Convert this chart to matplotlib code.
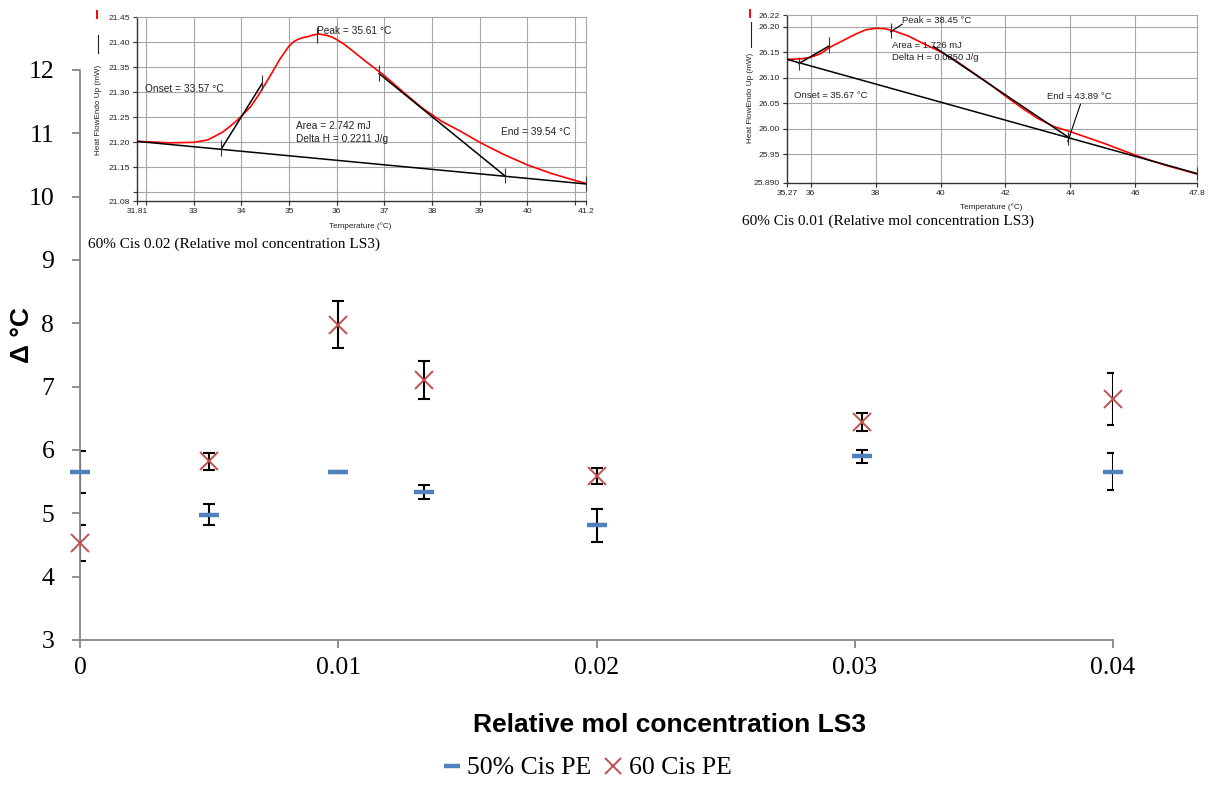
import matplotlib
matplotlib.use("Agg")
import matplotlib.pyplot as plt
from matplotlib.lines import Line2D

W, H = 1208, 787

# ---- main series: melting-transition shift vs. LS3 concentration ----
conc = [0, 0.005, 0.01, 0.01333, 0.02, 0.0303, 0.04]
dT_50 = [5.65, 4.98, 5.65, 5.33, 4.81, 5.90, 5.66]
err_50 = [0.33, 0.17, 0.02, 0.11, 0.26, 0.10, 0.29]
dT_60 = [4.53, 5.82, 7.98, 7.11, 5.59, 6.44, 6.81]
err_60 = [0.29, 0.14, 0.37, 0.30, 0.12, 0.14, 0.41]

x_ticks = [0, 0.01, 0.02, 0.03, 0.04]
x_tick_labels = ["0", "0.01", "0.02", "0.03", "0.04"]
y_ticks = [3, 4, 5, 6, 7, 8, 9, 10, 11, 12]

# ---- DSC thermogram: 60% Cis, 0.02 LS3 ----
dsc02_T = [31.81, 32.5, 33.0, 33.3, 33.6, 33.75, 33.9, 34.05, 34.2, 34.35,
           34.5, 34.65, 34.8, 35.0, 35.1, 35.2, 35.3, 35.4, 35.5, 35.6, 35.7,
           35.8, 35.9, 36.0, 36.15, 36.3, 36.6, 37.0, 37.4, 37.8, 38.2, 38.6,
           39.0, 39.5, 40.0, 40.5, 41.0, 41.23]
dsc02_hf = [21.202, 21.199, 21.200, 21.205, 21.220, 21.231, 21.243, 21.257,
            21.272, 21.293, 21.316, 21.340, 21.365, 21.392, 21.401, 21.406,
            21.409, 21.411, 21.414, 21.416, 21.415, 21.413, 21.410, 21.405,
            21.396, 21.385, 21.362, 21.333, 21.300, 21.268, 21.242, 21.222,
            21.200, 21.176, 21.155, 21.138, 21.124, 21.118]
dsc02_base_T = [31.81, 41.23]
dsc02_base_hf = [21.202, 21.117]
dsc02_onset_T = [33.58, 34.44]
dsc02_onset_hf = [21.187, 21.318]
dsc02_end_T = [36.89, 39.53]
dsc02_end_hf = [21.337, 21.133]
dsc02_mark_T = [33.58, 34.44, 35.59, 36.89, 39.53, 41.23]
dsc02_mark_lo = [21.172, 21.305, 21.399, 21.322, 21.119, 21.102]
dsc02_mark_hi = [21.205, 21.335, 21.431, 21.355, 21.149, 21.132]

# ---- DSC thermogram: 60% Cis, 0.01 LS3 ----
dsc01_T = [35.27, 35.7, 36.0, 36.3, 36.6, 37.0, 37.4, 37.7, 38.0, 38.3, 38.6,
           39.0, 39.5, 40.0, 40.5, 41.0, 41.5, 42.0, 42.5, 43.0, 43.5, 44.0,
           44.5, 45.0, 45.5, 46.0, 46.5, 47.0, 47.9]
dsc01_hf = [26.136, 26.137, 26.140, 26.147, 26.160, 26.173, 26.186, 26.194,
            26.197, 26.196, 26.191, 26.182, 26.166, 26.151, 26.132, 26.110,
            26.088, 26.064, 26.041, 26.020, 26.004, 25.994, 25.983, 25.972,
            25.960, 25.948, 25.937, 25.927, 25.911]
dsc01_base_T = [35.27, 47.9]
dsc01_base_hf = [26.136, 25.912]
dsc01_onset_T = [35.64, 36.56]
dsc01_onset_hf = [26.128, 26.162]
dsc01_end_T = [39.79, 43.92]
dsc01_end_hf = [26.161, 25.984]
dsc01_mark_T = [35.64, 36.56, 38.46, 43.92, 47.9]
dsc01_mark_lo = [26.115, 26.149, 26.177, 25.968, 25.899]
dsc01_mark_hi = [26.141, 26.179, 26.207, 25.994, 25.925]

BLUE = "#4F81BD"
RED = "#C0504D"
AXIS_GREY = "#868686"
SERIF = ["Liberation Serif", "DejaVu Serif"]
SANS = ["Liberation Sans", "DejaVu Sans"]


def fx(px):
    return px / W


def fy(py):
    return 1 - py / H


fig = plt.figure(figsize=(W / 100, H / 100), dpi=100)

# ================= main chart =================
ax = fig.add_axes([fx(80), fy(640), (1113 - 80) / W, (640 - 70) / H])
ax.set_xlim(0, 0.04)
ax.set_ylim(3, 12)
for s in ("top", "right"):
    ax.spines[s].set_visible(False)
for s in ("left", "bottom"):
    ax.spines[s].set_color(AXIS_GREY)
    ax.spines[s].set_linewidth(1.3)
ax.set_xticks(x_ticks)
ax.set_xticklabels(x_tick_labels, family=SERIF, fontsize=18.5)
ax.set_yticks(y_ticks)
ax.set_yticklabels([str(v) for v in y_ticks], family=SERIF, fontsize=18.5)
ax.tick_params(axis="y", length=5.5, width=1.3, color=AXIS_GREY, pad=13)
ax.tick_params(axis="x", length=6, width=1.3, color=AXIS_GREY, pad=6)

ax.errorbar(conc, dT_50, yerr=err_50, fmt="none", ecolor="black",
            elinewidth=1.5, capsize=4.3, capthick=1.5, zorder=2)
ax.errorbar(conc, dT_60, yerr=err_60, fmt="none", ecolor="black",
            elinewidth=1.5, capsize=4.3, capthick=1.5, zorder=2)
ax.plot(conc, dT_50, ls="none", marker="_", ms=14.5, mew=3.2, color=BLUE,
        zorder=3, clip_on=False)
ax.plot(conc, dT_60, ls="none", marker="x", ms=13.5, mew=1.4, color=RED,
        zorder=3, clip_on=False)

handles = [
    Line2D([], [], ls="none", marker="_", ms=11.5, mew=3.2, color=BLUE),
    Line2D([], [], ls="none", marker="x", ms=12, mew=1.4, color=RED),
]
ax.legend(handles, ["50% Cis PE", "60 Cis PE"], ncol=2, loc="center",
          bbox_to_anchor=(fx(587), fy(768)), bbox_transform=fig.transFigure,
          frameon=False, prop={"family": SERIF, "size": 18.5},
          handlelength=0.7, handletextpad=0.25, columnspacing=0.5,
          borderpad=0, borderaxespad=0)

fig.text(fx(670), fy(725), "Relative mol concentration LS3", family=SANS,
         fontweight="bold", fontsize=19, ha="center", va="center")
fig.text(fx(22), fy(335), "Δ °C", family=SANS, fontweight="bold",
         fontsize=19, rotation=90, ha="center", va="center")


# ================= DSC thermogram panels =================
def dsc_panel(rect, xlim, ylim, xt, xtl, xgrid, yt, ytl, ygrid):
    a = fig.add_axes(rect)
    a.xaxis.remove_overlapping_locs = False
    a.yaxis.remove_overlapping_locs = False
    a.set_xlim(*xlim)
    a.set_ylim(*ylim)
    a.set_xticks(xt)
    a.set_xticklabels(xtl, family=SANS, fontsize=6.1, color="#222222")
    a.set_yticks(yt)
    a.set_yticklabels(ytl, family=SANS, fontsize=6.1, color="#222222")
    a.set_xticks(xgrid, minor=True)
    a.set_yticks(ygrid, minor=True)
    a.grid(which="minor", color="#A6A6A6", lw=0.8)
    a.tick_params(which="both", length=3, width=0.8, pad=2, color="#333333")
    for s in ("left", "bottom"):
        a.spines[s].set_color("#333333")
        a.spines[s].set_linewidth(1.0)
    for s in ("top", "right"):
        a.spines[s].set_color("#A6A6A6")
        a.spines[s].set_linewidth(0.8)
    return a


ax1 = dsc_panel([fx(137), fy(201), 449 / W, 184 / H], (31.81, 41.23),
                (21.083, 21.45),
                [31.81, 33, 34, 35, 36, 37, 38, 39, 40, 41.23],
                ["31.81", "33", "34", "35", "36", "37", "38", "39", "40", "41.2"],
                [32, 33, 34, 35, 36, 37, 38, 39, 40, 41],
                [21.083, 21.15, 21.20, 21.25, 21.30, 21.35, 21.40, 21.45],
                ["21.08", "21.15", "21.20", "21.25", "21.30", "21.35", "21.40", "21.45"],
                [21.10, 21.15, 21.20, 21.25, 21.30, 21.35, 21.40])
ax1.plot(dsc02_T, dsc02_hf, color="#FF0000", lw=1.2, zorder=3)
ax1.plot(dsc02_base_T, dsc02_base_hf, color="black", lw=1.1, zorder=4)
ax1.plot(dsc02_onset_T, dsc02_onset_hf, color="black", lw=1.1, zorder=4)
ax1.plot(dsc02_end_T, dsc02_end_hf, color="black", lw=1.1, zorder=4)
ax1.vlines(dsc02_mark_T, dsc02_mark_lo, dsc02_mark_hi, color="#333333",
           lw=0.8, zorder=4, clip_on=False)
ann = dict(family=SANS, fontsize=7.3, color="#222222", va="center")
ax1.text(35.59, 21.423, "Peak = 35.61 °C", **ann)
ax1.text(31.97, 21.306, "Onset = 33.57 °C", **ann)
ax1.text(35.14, 21.233, "Area = 2.742 mJ", **ann)
ax1.text(35.14, 21.207, "Delta H = 0.2211 J/g", **ann)
ax1.text(39.45, 21.22, "End = 39.54 °C", **ann)

ax2 = dsc_panel([fx(787), fy(182.7), 410 / W, 167.7 / H], (35.27, 47.9),
                (25.894, 26.223),
                [35.27, 36, 38, 40, 42, 44, 46, 47.9],
                ["35.27", "36", "38", "40", "42", "44", "46", "47.8"],
                [36, 38, 40, 42, 44, 46],
                [25.894, 25.95, 26.00, 26.05, 26.10, 26.15, 26.20, 26.223],
                ["25.890", "25.95", "26.00", "26.05", "26.10", "26.15", "26.20", "26.22"],
                [25.95, 26.00, 26.05, 26.10, 26.15, 26.20])
ax2.plot(dsc01_T, dsc01_hf, color="#FF0000", lw=1.2, zorder=3)
ax2.plot(dsc01_base_T, dsc01_base_hf, color="black", lw=1.1, zorder=4)
ax2.plot(dsc01_onset_T, dsc01_onset_hf, color="black", lw=1.1, zorder=4)
ax2.plot(dsc01_end_T, dsc01_end_hf, color="black", lw=1.1, zorder=4)
ax2.vlines(dsc01_mark_T, dsc01_mark_lo, dsc01_mark_hi, color="#333333",
           lw=0.8, zorder=4, clip_on=False)
ax2.plot([38.46, 38.82], [26.190, 26.205], color="black", lw=0.8, zorder=4)
ax2.plot([43.92, 44.31], [25.975, 26.048], color="black", lw=0.8, zorder=4)
ann2 = dict(family=SANS, fontsize=6.8, color="#222222", va="center")
ax2.text(38.82, 26.213, "Peak = 38.45 °C", **ann2)
ax2.text(38.49, 26.164, "Area = 1.726 mJ", **ann2)
ax2.text(38.49, 26.140, "Delta H = 0.0850 J/g", **ann2)
ax2.text(35.49, 26.066, "Onset = 35.67 °C", **ann2)
ax2.text(43.28, 26.063, "End = 43.89 °C", **ann2)

# panel axis titles, legend keys and captions
small = dict(family=SANS, fontsize=5.9, color="#222222", ha="center", va="center")
fig.text(fx(360), fy(226), "Temperature (°C)", **small)
fig.text(fx(991), fy(207), "Temperature (°C)", **small)
fig.text(fx(98), fy(110), "Heat FlowEndo Up (mW)", rotation=90, **small)
fig.text(fx(751), fy(98), "Heat FlowEndo Up (mW)", rotation=90, **small)
for x0, (r0, r1), (b0, b1) in [(97, (11, 18), (35, 53)), (750, (10, 17), (22, 47))]:
    fig.add_artist(Line2D([fx(x0), fx(x0)], [fy(r0), fy(r1)], color="#FF0000", lw=1.4))
    fig.add_artist(Line2D([fx(x0 + 1), fx(x0 + 1)], [fy(b0), fy(b1)], color="#222222", lw=0.8))

fig.text(fx(88), fy(244), "60% Cis 0.02 (Relative mol concentration LS3)",
         family=SERIF, fontsize=11, ha="left", va="center")
fig.text(fx(742), fy(221), "60% Cis 0.01 (Relative mol concentration LS3)",
         family=SERIF, fontsize=11, ha="left", va="center")

fig.savefig("out.png", dpi=100, facecolor="white")
